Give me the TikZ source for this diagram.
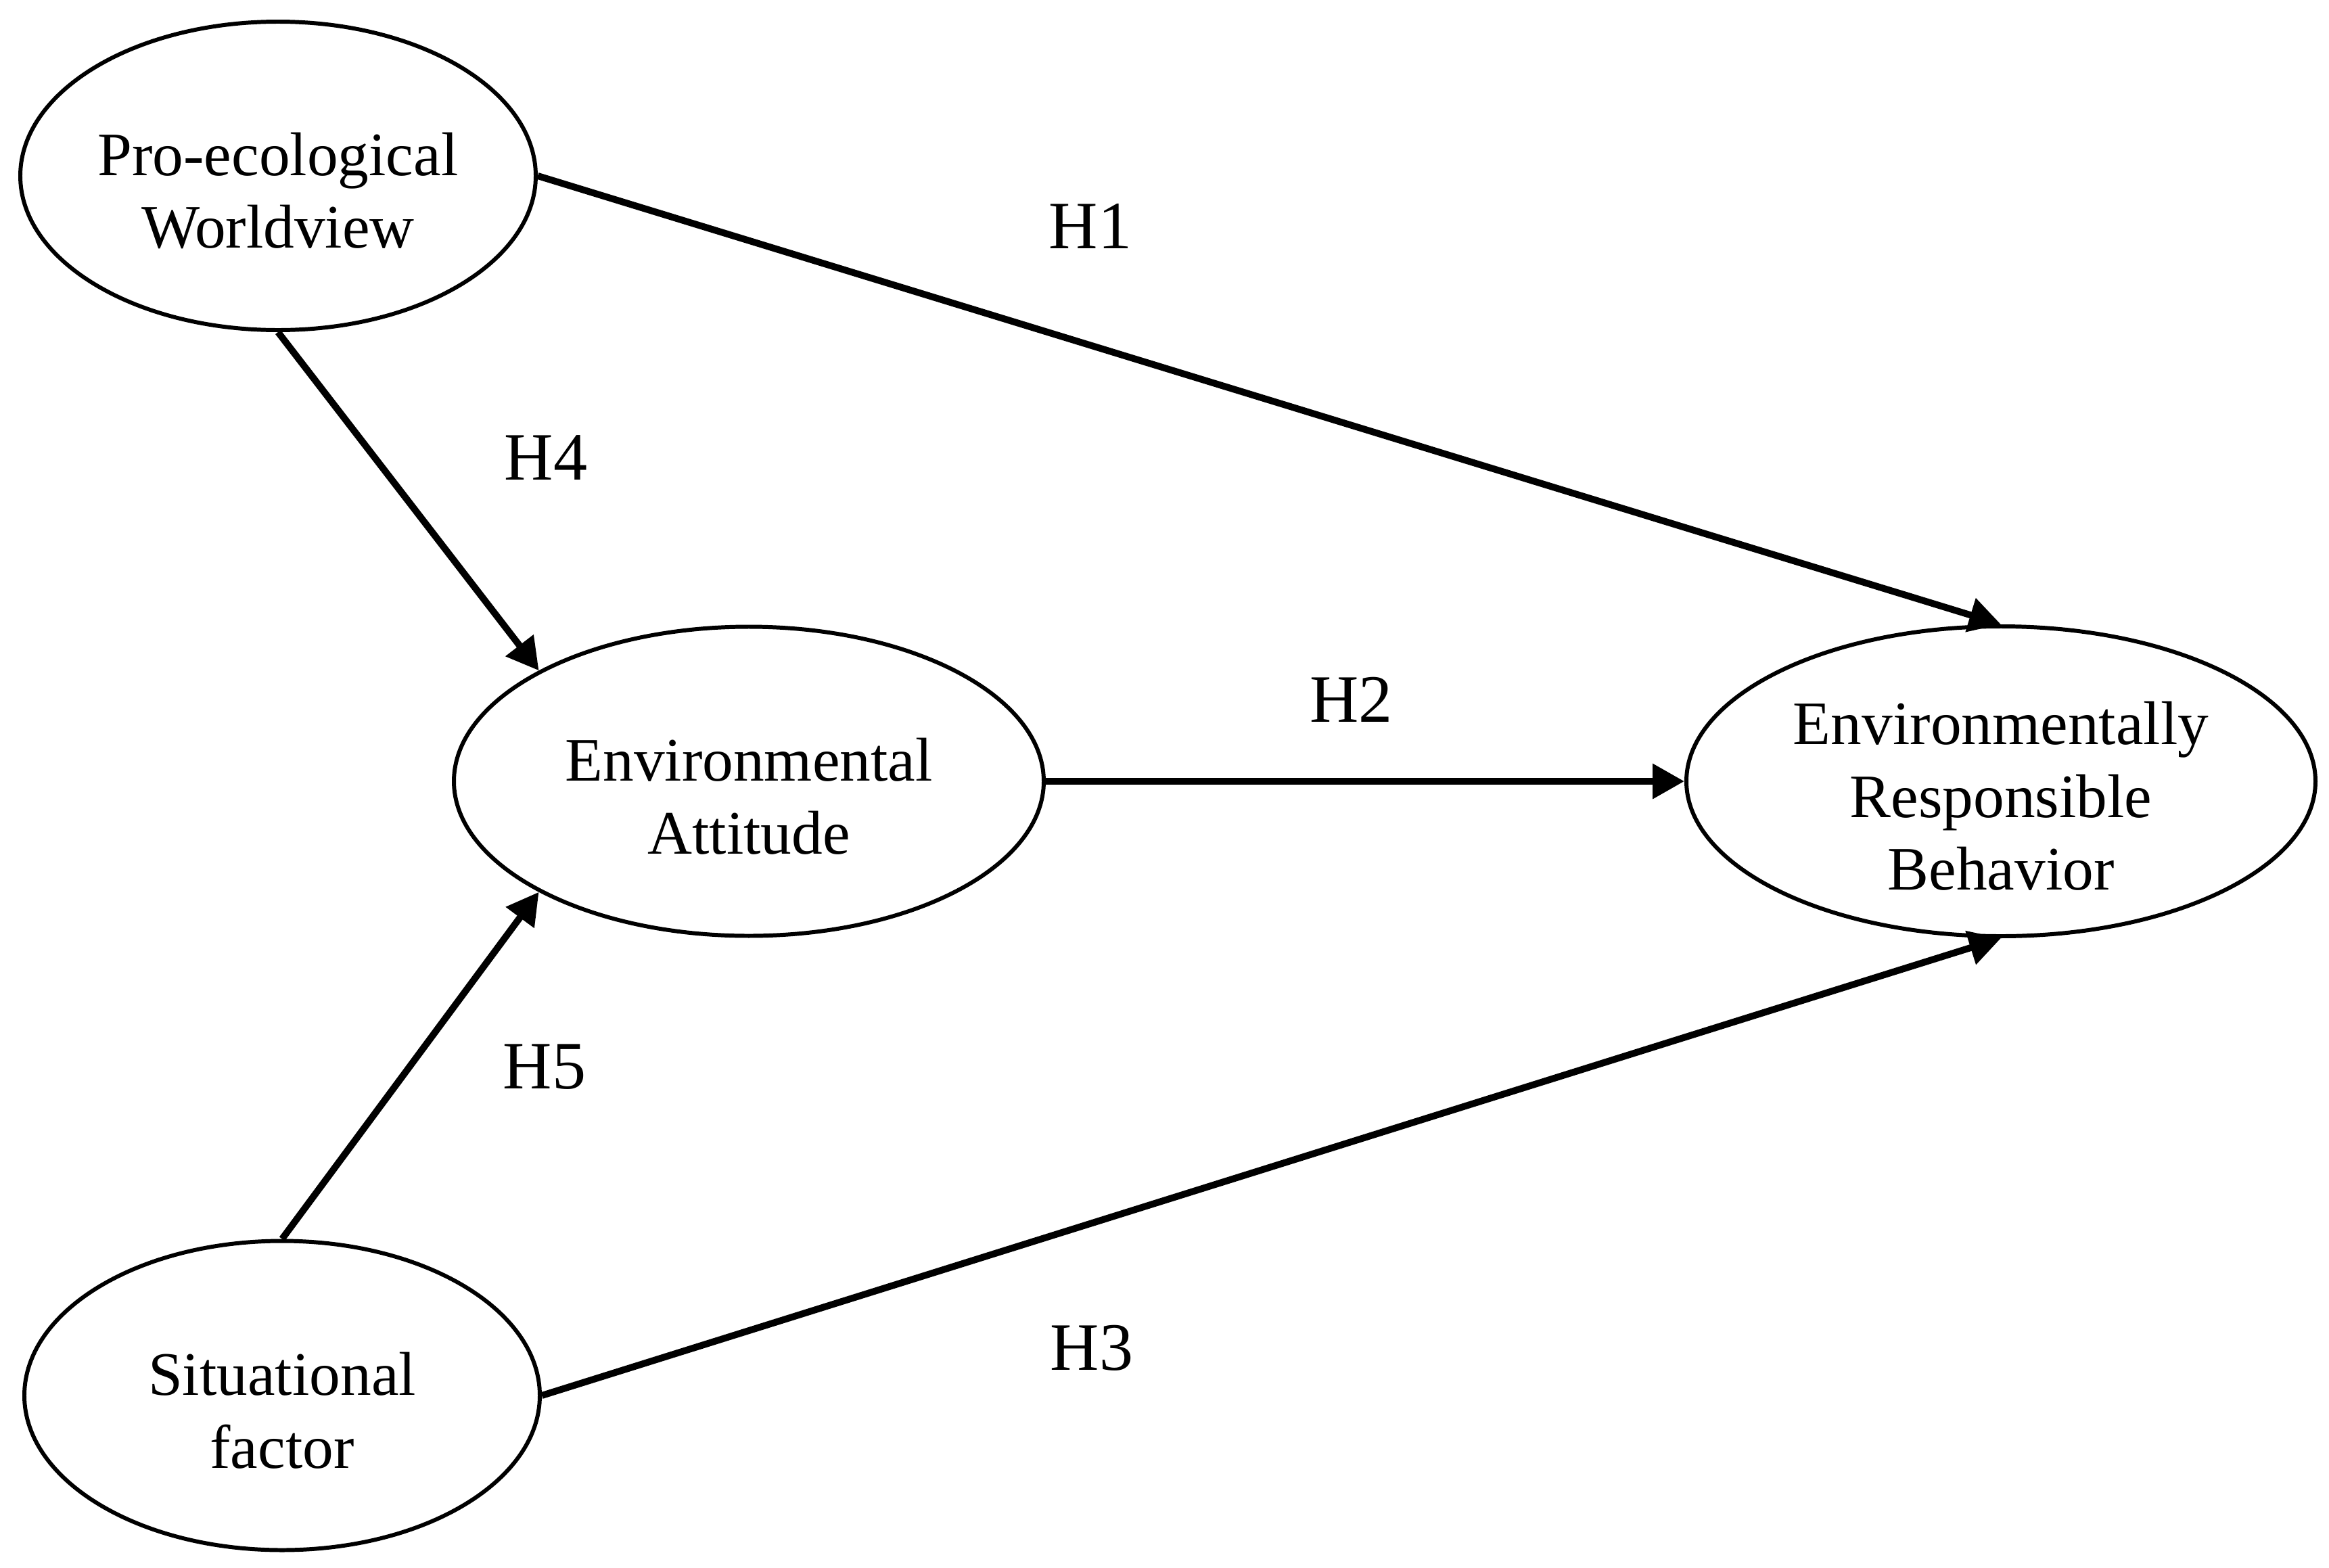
\documentclass[tikz,border=0pt]{standalone}
\usepackage{fontspec}
\setmainfont{Liberation Serif}
\usetikzlibrary{arrows.meta,shapes.geometric}
\begin{document}
\begin{tikzpicture}[
  ell/.style={draw, line width=1.7pt, ellipse, inner sep=0pt},
  etext/.style={align=center, font=\fontsize{26}{30.6}\selectfont, inner sep=0pt},
  hyp/.style={font=\fontsize{28.5}{34}\selectfont, inner sep=0pt, anchor=base},
  link/.style={line width=2.85pt, -{Triangle[length=0.47cm,width=0.5cm]}}
]
\useasboundingbox (0,0) rectangle (34.43,-23.18);
\fill[white] (0,0) rectangle (34.43,-23.18);

% ellipses
\node[ell, minimum width=7.62cm, minimum height=4.56cm] (pew) at (4.11,-2.60) {};
\node[ell, minimum width=8.72cm, minimum height=4.57cm] (ea) at (11.07,-11.55) {};
\node[ell, minimum width=9.30cm, minimum height=4.58cm] (erb) at (29.58,-11.55) {};
\node[ell, minimum width=7.62cm, minimum height=4.57cm] (sf) at (4.17,-20.63) {};

% texts
\node[etext] (pewt) at ([yshift=-0.22cm]pew.center) {Pro-ecological\\Worldview};
\node[etext] (eat) at ([yshift=-0.22cm]ea.center) {Environmental\\Attitude};
\node[etext] (erbt) at ([yshift=-0.22cm]erb.center) {Environmentally\\Responsible\\Behavior};
\node[etext] (sft) at ([yshift=-0.22cm]sf.center) {Situational\\factor};

% connectors
\draw[link] (pew.east) -- (erb.north);
\draw[link] (pew.south) -- (ea.north west);
\draw[link] (ea.east) -- (erb.west);
\draw[link] (sf.north) -- (ea.south west);
\draw[link] (sf.east) -- (erb.south);

% hypothesis labels
\node[hyp] (h1) at (16.12,-3.67) {H1};
\node[hyp] (h4) at (8.07,-7.09) {H4};
\node[hyp] (h2) at (19.975,-10.67) {H2};
\node[hyp] (h5) at (8.05,-16.09) {H5};
\node[hyp] (h3) at (16.14,-20.25) {H3};
\end{tikzpicture}
\end{document}
